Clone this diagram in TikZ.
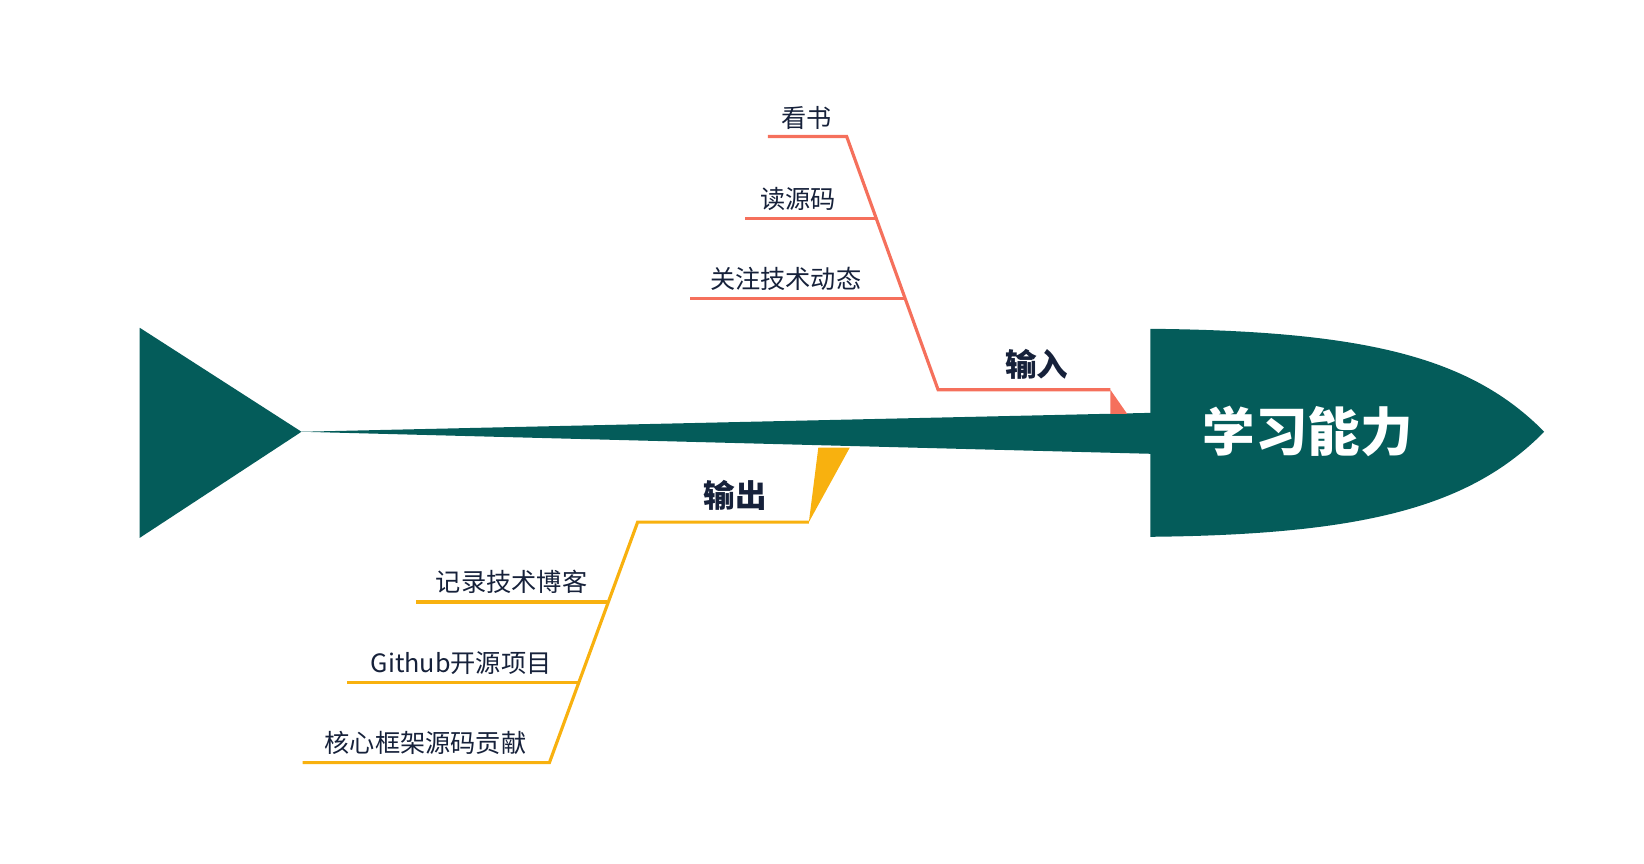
\documentclass[tikz,border=0pt]{standalone}
\usepackage{fontspec}
\setmainfont{Noto Sans CJK SC}
\definecolor{fish}{HTML}{045C5A}
\definecolor{inp}{HTML}{F5705C}
\definecolor{outp}{HTML}{F8B10F}
\definecolor{txt}{HTML}{16213A}
\begin{document}
\begin{tikzpicture}[x=1pt,y=-1pt,
  lbl/.style={text=txt,font=\fontsize{24}{26}\selectfont,inner sep=0pt},
  blbl/.style={text=txt,font=\fontsize{30}{32}\selectfont\bfseries,inner sep=0pt},
  il/.style={draw=inp,line width=3pt},
  ol/.style={draw=outp,line width=3pt}]
\useasboundingbox (0,0) rectangle (1565,822);
% tail
\fill[fish] (133,312) -- (287,411) -- (133,512) -- cycle;
% spine
\fill[fish] (287,411) -- (1096,393) -- (1096,432) -- cycle;
% input branch
\fill[inp] (1057,371) -- (1057,394) -- (1073,394) -- cycle;
\coordinate (i0) at (1057,371);
\coordinate (i1) at (893,371);
\coordinate (i2) at (806,130);
\coordinate (i3) at (731,130);
\coordinate (a1) at (833,208); \coordinate (a2) at (709,208);
\coordinate (b1) at (861,284); \coordinate (b2) at (657,284);
\draw[il,line join=miter] (i0) -- (i1) -- (i2) -- (i3);
\draw[il] (a1) -- (a2);
\draw[il] (b1) -- (b2);
\node[lbl] (t1) at (768,112) {看书};
\node[lbl] (t2) at (760,189) {读源码};
\node[lbl] (t3) at (748,265) {关注技术动态};
\node[blbl] (tin) at (987,347) {输入};
% output branch
\fill[outp] (779,426) -- (809,426) -- (770,497) -- cycle;
\coordinate (o0) at (770,497);
\coordinate (o1) at (607,497);
\coordinate (o2) at (523,726);
\coordinate (o3) at (288,726);
\coordinate (c1) at (578,573); \coordinate (c2) at (396,573);
\coordinate (d1) at (550,650); \coordinate (d2) at (330,650);
\draw[ol] (o0) -- (o1) -- (o2) -- (o3);
\draw[ol] (c1) -- (c2);
\draw[ol] (d1) -- (d2);
\node[lbl] (s1) at (487,554) {记录技术博客};
\node[lbl] (s2) at (439,631) {Github开源项目};
\node[lbl] (s3) at (405,707) {核心框架源码贡献};
\node[blbl] (tout) at (700,472) {输出};
% head
\fill[fish] (1095,313) .. controls (1300,315) and (1400,340) .. (1470,411)
  .. controls (1400,482) and (1300,509) .. (1095,511) -- cycle;
\node[text=white,font=\fontsize{50}{54}\selectfont\bfseries,inner sep=0pt] (head) at (1245,411) {学习能力};
\end{tikzpicture}
\end{document}
